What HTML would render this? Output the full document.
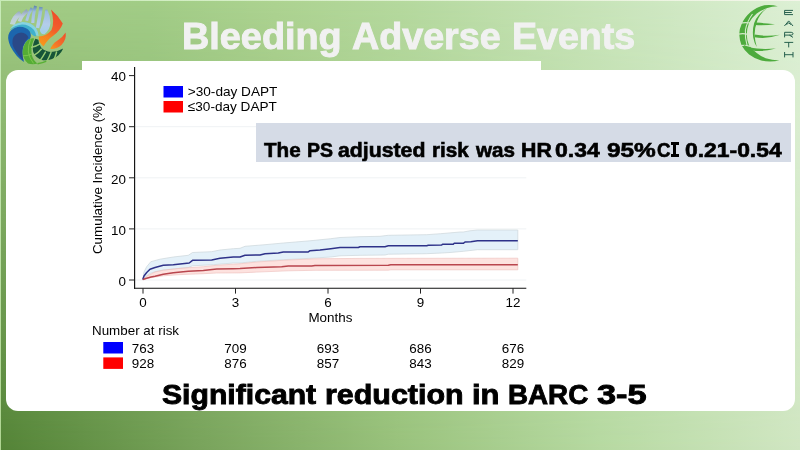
<!DOCTYPE html>
<html>
<head>
<meta charset="utf-8">
<title>Bleeding Adverse Events</title>
<style>
html,body{margin:0;padding:0;}
body{width:800px;height:450px;overflow:hidden;position:relative;font-family:"Liberation Sans",sans-serif;background:#a2ca84;}
#bgTop,#bgBot{position:absolute;left:0;top:0;width:800px;height:450px;}
#bgTop{background:linear-gradient(to right,rgb(162,203,133) 0px,rgb(162,205,135) 150px,rgb(173,211,145) 275px,rgb(181,217,158) 400px,rgb(205,231,192) 650px,rgb(221,240,213) 800px);}
#bgBot{background:linear-gradient(to right,rgb(83,131,54) 0px,rgb(120,163,91) 200px,rgb(153,194,124) 400px,rgb(182,217,161) 600px,rgb(208,230,194) 800px);
 -webkit-mask-image:linear-gradient(to bottom,rgba(0,0,0,0) 0px,rgba(0,0,0,1) 450px);mask-image:linear-gradient(to bottom,rgba(0,0,0,0) 0px,rgba(0,0,0,1) 450px);}
#edgeT{position:absolute;left:0;top:0;width:800px;height:1px;background:linear-gradient(to right,#c8ebb8,#f4f6ea);}
#edgeL{position:absolute;left:0;top:0;width:1px;height:450px;background:linear-gradient(to bottom,#c8ebb8,#afd592);}
#panel{position:absolute;left:6.3px;top:70px;width:788.8px;height:340.9px;background:#fff;border-radius:12px;}
#chartbg{position:absolute;left:81.8px;top:60.8px;width:459.3px;height:330px;background:#fff;}
#title span{-webkit-text-stroke:0.9px #f1f1f1;position:absolute;top:15.9px;font-weight:bold;font-size:36px;line-height:normal;color:#f1f1f1;white-space:nowrap;transform-origin:0 0;}
#hrbox{position:absolute;left:256px;top:123.2px;width:534.9px;height:38.5px;background:#d5dbe6;}
#hrtext span{-webkit-text-stroke:0.6px #000;position:absolute;top:138.8px;font-weight:bold;font-size:19.5px;line-height:normal;color:#000;white-space:nowrap;transform-origin:0 0;}
#foot span{-webkit-text-stroke:0.9px #000;position:absolute;top:378px;font-weight:bold;font-size:28.5px;line-height:normal;color:#000;white-space:nowrap;transform-origin:0 0;}
svg{position:absolute;left:0;top:0;}
#chart,#title,#hrtext,#foot{opacity:0.999;}
svg text{font-family:"Liberation Sans",sans-serif;fill:#000;}
</style>
</head>
<body>
<div id="bgTop"></div>
<div id="bgBot"></div>
<div id="edgeT"></div>
<div id="edgeL"></div>
<div id="panel"></div>
<div id="chartbg"></div>
<div id="title"><span style="left:181.9px;transform:scaleX(1.0507)">Bleeding</span><span style="left:352.4px;transform:scaleX(1.046)">Adverse</span><span style="left:511.9px;transform:scaleX(1.0435)">Events</span></div>

<svg id="chart" width="800" height="450" viewBox="0 0 800 450">
<!-- gridlines -->
<g stroke="#eff2f4" stroke-width="1">
<line x1="135" y1="228.9" x2="526.3" y2="228.9"/>
<line x1="135" y1="177.8" x2="526.3" y2="177.8"/>
<line x1="135" y1="126.7" x2="526.3" y2="126.7"/>
<line x1="135" y1="280" x2="526.3" y2="280"/>
</g>
<!-- CURVES-START -->
<path d="M142.8,279.5 L144.0,272.0 L146.7,266.7 L150.8,261.7 L160.0,259.2 L173.3,257.0 L188.3,255.3 L192.5,252.5 L211.7,251.7 L220.0,250.0 L233.3,248.7 L240.0,248.3 L245.0,246.3 L265.0,244.7 L283.3,243.0 L310.0,240.8 L330.8,238.7 L340.0,237.5 L360.0,236.7 L380.0,236.3 L388.3,235.3 L426.7,234.7 L440.8,233.7 L460.0,232.0 L463.3,232.0 L470.0,230.8 L477.5,230.0 L517.8,230.0 L517.8,249.7 L477.5,249.7 L463.3,251.3 L450.0,252.5 L441.7,253.0 L426.7,253.7 L388.3,254.2 L385.0,255.0 L360.0,255.3 L340.0,255.8 L330.8,257.0 L310.0,258.3 L283.3,259.7 L256.7,261.3 L240.0,263.0 L233.3,263.0 L213.3,264.7 L192.5,265.8 L188.3,267.5 L163.3,270.0 L155.0,271.7 L150.0,273.5 L146.7,276.0 L142.8,279.5 Z" fill="#d6e9f6" fill-opacity="0.65" stroke="#cdd7db" stroke-opacity="0.8" stroke-width="0.9"/>
<path d="M142.8,279.5 L146.7,276.3 L155.0,272.0 L163.3,270.2 L180.0,268.3 L203.3,266.7 L216.7,265.3 L233.3,264.2 L240.0,263.8 L256.7,262.0 L288.3,260.0 L315.0,258.8 L360.0,258.4 L517.8,258.2 L517.8,269.8 L390.8,269.8 L388.3,270.2 L315.0,270.3 L288.3,270.8 L256.7,272.1 L240.0,272.9 L216.7,273.0 L203.3,273.7 L180.0,274.6 L163.3,275.8 L155.0,277.0 L146.7,278.5 L142.8,279.5 Z" fill="#fbc5bf" fill-opacity="0.5" stroke="#eec0bc" stroke-opacity="0.7" stroke-width="0.9"/>
<path d="M142.8,279.5 L144.0,276.0 L146.7,272.5 L150.0,269.2 L155.0,267.5 L163.3,265.3 L173.3,264.7 L189.2,263.0 L192.5,260.3 L211.7,260.0 L220.0,258.3 L233.3,257.0 L240.0,257.0 L245.0,255.2 L260.0,255.0 L265.0,253.8 L278.3,253.0 L283.3,252.0 L308.3,251.9 L310.0,250.7 L320.0,250.0 L330.8,248.7 L340.0,247.5 L358.3,247.5 L360.0,246.7 L385.0,246.7 L388.3,245.8 L426.7,245.8 L428.3,245.2 L441.7,245.0 L442.5,244.2 L453.3,244.2 L454.2,243.3 L463.3,243.3 L465.0,242.0 L470.8,241.7 L477.5,240.8 L517.8,240.8" fill="none" stroke="#2e3289" stroke-width="1.5" stroke-linejoin="round"/>
<path d="M142.8,279.5 L146.7,278.2 L151.0,277.0 L155.0,276.2 L163.3,274.3 L173.3,272.7 L188.3,271.2 L203.3,270.4 L216.7,269.1 L233.3,268.7 L240.0,268.6 L256.7,267.5 L281.7,266.8 L288.3,265.9 L311.7,265.9 L315.0,265.4 L388.3,265.3 L390.8,264.8 L517.8,264.8" fill="none" stroke="#b9464e" stroke-width="1.5" stroke-linejoin="round"/>
<!-- CURVES-END -->
<!-- axes -->
<g stroke="#111" stroke-width="1.15" fill="none">
<line x1="134.6" y1="67.1" x2="134.6" y2="288.8"/>
<line x1="134" y1="288.25" x2="526.3" y2="288.25"/>
</g>
<g stroke="#222" stroke-width="1" fill="none">
<line x1="129" y1="75.6" x2="134.6" y2="75.6"/>
<line x1="129" y1="126.7" x2="134.6" y2="126.7"/>
<line x1="129" y1="177.8" x2="134.6" y2="177.8"/>
<line x1="129" y1="228.9" x2="134.6" y2="228.9"/>
<line x1="129" y1="280" x2="134.6" y2="280"/>
<line x1="143" y1="288.25" x2="143" y2="293.6"/>
<line x1="235.5" y1="288.25" x2="235.5" y2="293.6"/>
<line x1="328" y1="288.25" x2="328" y2="293.6"/>
<line x1="420.5" y1="288.25" x2="420.5" y2="293.6"/>
<line x1="513" y1="288.25" x2="513" y2="293.6"/>
</g>
<!-- y tick labels -->
<g font-size="13.4" text-anchor="end">
<text x="126" y="81.3">40</text>
<text x="126" y="132.4">30</text>
<text x="126" y="183.5">20</text>
<text x="126" y="234.6">10</text>
<text x="126" y="285.7">0</text>
</g>
<!-- x tick labels -->
<g font-size="13.4" text-anchor="middle">
<text x="143" y="307.3">0</text>
<text x="235.5" y="307.3">3</text>
<text x="328" y="307.3">6</text>
<text x="420.5" y="307.3">9</text>
<text x="513" y="307.3">12</text>
</g>
<text x="330.4" y="321.8" font-size="13.4" text-anchor="middle">Months</text>
<text transform="translate(101.5,177.8) rotate(-90)" font-size="13.4" text-anchor="middle">Cumulative Incidence (%)</text>
<!-- legend -->
<rect x="163.5" y="86" width="19.5" height="11.5" fill="#0000ff"/>
<rect x="163.5" y="101" width="19.5" height="11.5" fill="#ff0000"/>
<text x="187.8" y="96.3" font-size="13.6">&gt;30-day DAPT</text>
<text x="187.8" y="111" font-size="13.6">≤30-day DAPT</text>
<!-- risk table -->
<text x="92" y="334.5" font-size="13.4">Number at risk</text>
<rect x="103.3" y="342" width="19.7" height="11.5" fill="#0000ff"/>
<rect x="103.3" y="357.4" width="19.7" height="11.5" fill="#ff0000"/>
<g font-size="13.4" text-anchor="middle">
<text x="143" y="353">763</text>
<text x="235.5" y="353">709</text>
<text x="328" y="353">693</text>
<text x="420.5" y="353">686</text>
<text x="513" y="353">676</text>
<text x="143" y="368.3">928</text>
<text x="235.5" y="368.3">876</text>
<text x="328" y="368.3">857</text>
<text x="420.5" y="368.3">843</text>
<text x="513" y="368.3">829</text>
</g>
</svg>

<div id="hrbox"></div>
<div id="hrtext"><span style="left:264.0px;transform:scaleX(1.0588)">The</span><span style="left:307.0px;transform:scaleX(1.0)">PS</span><span style="left:337.91px;transform:scaleX(1.0897)">adjusted</span><span style="left:431.94px;transform:scaleX(1.0606)">risk</span><span style="left:475.6px;transform:scaleX(1.0556)">was</span><span style="left:520.51px;transform:scaleX(1.0923)">HR</span><span style="left:555.22px;transform:scaleX(1.1784)">0.34</span><span style="left:606.75px;transform:scaleX(1.25)">95%</span><span style="left:656.54px;transform:scaleX(0.9583)">C</span><span style="left:684.83px;transform:scaleX(1.1728)">0.21-0.54</span><i style="position:absolute;left:672.7px;top:142.4px;width:3.7px;height:14.2px;background:#000"></i><i style="position:absolute;left:670.5px;top:142.4px;width:8.1px;height:2.5px;background:#000"></i><i style="position:absolute;left:670.5px;top:154.1px;width:8.1px;height:2.5px;background:#000"></i></div>
<div id="foot"><span style="left:161.54px;transform:scaleX(1.0583)">Significant</span><span style="left:324.87px;transform:scaleX(1.0675)">reduction</span><span style="left:472.23px;transform:scaleX(1.0864)">in</span><span style="left:508.05px;transform:scaleX(0.9747)">BARC</span><span style="left:596.79px;transform:scaleX(1.2051)">3-5</span></div>

<!-- LL-START -->
<svg id="logoL" width="80" height="70" viewBox="0 0 80 70" style="position:absolute;left:0;top:0">
<defs>
<linearGradient id="ray" gradientUnits="userSpaceOnUse" x1="0" y1="6" x2="0" y2="32"><stop offset="0" stop-color="#5f86ad"/><stop offset="0.22" stop-color="#9dbde0"/><stop offset="0.7" stop-color="#b4cdea"/><stop offset="1" stop-color="#a4cfe8"/></linearGradient>
<linearGradient id="ray2" gradientUnits="userSpaceOnUse" x1="0" y1="10" x2="0" y2="26"><stop offset="0" stop-color="#8fa3b8"/><stop offset="0.4" stop-color="#bccbdd"/><stop offset="1" stop-color="#cbdbe4" stop-opacity="0.8"/></linearGradient>
<linearGradient id="flm" gradientUnits="userSpaceOnUse" x1="58" y1="12" x2="42" y2="46"><stop offset="0" stop-color="#ee4b2b"/><stop offset="0.5" stop-color="#f2602a"/><stop offset="0.72" stop-color="#f58220"/><stop offset="1" stop-color="#f7981d"/></linearGradient>
<linearGradient id="flm2" gradientUnits="userSpaceOnUse" x1="66" y1="33" x2="51" y2="49"><stop offset="0" stop-color="#ee4f2b"/><stop offset="0.6" stop-color="#f3702a"/><stop offset="1" stop-color="#f7941d"/></linearGradient>
<filter id="lb" x="-5%" y="-5%" width="110%" height="110%"><feGaussianBlur stdDeviation="0.5"/></filter>
</defs>
<g filter="url(#lb)">
<!-- rays -->
<g fill="none" stroke-linecap="butt">
<path d="M12.3,24.5 Q14,17.5 20.5,13" stroke="url(#ray2)" stroke-width="5"/>
<path d="M19.5,21.5 Q21.5,15 27.5,10.5" stroke="url(#ray2)" stroke-width="3.6"/>
<path d="M26.7,20.8 Q28.2,13.5 32,8.2" stroke="url(#ray)" stroke-width="2.9"/>
<path d="M32.8,23 Q33.2,13 35.6,6" stroke="url(#ray)" stroke-width="3.1"/>
<path d="M37.5,28 Q40,16 41,7" stroke="url(#ray)" stroke-width="3.5"/>
</g>
<path d="M47.2,9.6 Q50.5,16 50.4,23 Q50,30 44.5,34.2 Q40.5,34.5 39.8,30 Q43,24 44.3,17 Q45,12 45.2,9.8 Z" fill="url(#ray)"/>
<!-- cyan waves -->
<path d="M10,29 Q13.5,23.2 22.5,22 Q31,21.8 36,28 Q38.5,32 38.6,36 Q35,35.5 32.5,31.5 Q27,25.5 18,26.3 Q13,27 10,29 Z" fill="#86d3e1"/>
<path d="M9.6,30.5 Q13.5,25.4 22,24.4 Q29.5,24.4 34,30 Q36,33 36.2,36.6 Q32.5,36 30,32 Q25.5,27 18,27.4 Q13,28 9.6,30.5 Z" fill="#3fb0cd"/>
<!-- blue wave -->
<path d="M8.4,35 Q10,28.8 17.5,27 Q25.5,26 29.8,31.5 Q31.8,35.2 30,38.8 Q25.5,41 23.5,46 Q21.5,53 24,62 Q16,57 10.5,46.5 Q7.5,40 8.4,35 Z" fill="#1b66ae"/>
<path d="M12.6,39.5 Q14.2,33.6 21,32.6 Q26.8,33 28.4,37.6 Q24.8,41.5 22.9,46.5 Q21.3,53 23.4,60.5 Q17.5,55 13.6,47.5 Q11.8,43.5 12.6,39.5 Z" fill="#2b4a88"/>
<!-- flames -->
<path d="M51,9.6 Q58,15.5 62.8,23.4 Q60.5,30 53.5,35.5 Q47.5,39.5 43.6,46.4 Q38.2,42.5 38.8,36.4 Q46.5,36.2 51.5,30 Q55,22 51,9.6 Z" fill="url(#flm)"/>
<path d="M65.6,32.6 Q66.8,39.5 61.5,45 Q56.5,49.5 50.4,49 Q52,44 57.5,40.5 Q63,37 65.6,32.6 Z" fill="url(#flm2)"/>
<!-- light green crescent -->
<path d="M34.2,38.4 Q30,37.6 26.5,41.2 Q22.5,46.5 22.6,53 Q23.4,59.5 28,63.6 Q33,65 37.5,63.6 Q33,60 31.8,55 Q30.4,47 34.2,38.4 Z" fill="#55ad34"/>
<path d="M30.6,39.4 Q28,45 28.3,52 Q29.5,58.5 33.5,63.4" fill="none" stroke="#80c850" stroke-width="0.9"/>
<path d="M22.8,55.8 Q27,56.2 31.8,54" fill="none" stroke="#80c850" stroke-width="0.9"/>
<path d="M37.5,63.8 Q43,63 46.5,61.2" fill="none" stroke="#58b035" stroke-width="1.5"/>
<!-- dark green leaf -->
<path d="M35.4,38.8 Q31.8,45 33.2,52 Q35.5,58.2 43,60.2 Q52,60.8 58.5,55.3 Q61.5,52.3 63.2,48.4 Q58,51.6 51,52 Q44.5,51.6 41,47.3 Q38.4,43.5 38.4,39.8 Z" fill="#165539"/>
<g fill="none" stroke="#98cc74" stroke-width="1.4">
<path d="M31,47.4 Q36,46.7 40.5,43.7"/>
<path d="M33.5,55.7 Q38,53.2 41.7,48.7"/>
<path d="M39.7,61.2 Q42.7,57.2 45.7,51.7"/>
<path d="M46.7,61.7 Q49.2,57.2 51.2,52"/>
<path d="M53.7,60 Q55.7,56 56.7,51.5"/>
</g>
</g>
</svg>
<!-- LL-END -->
<!-- LR-START -->
<svg id="logoR" width="70" height="70" viewBox="730 0 70 70" style="position:absolute;left:730px;top:0">
<defs><filter id="rb" x="-5%" y="-5%" width="110%" height="110%"><feGaussianBlur stdDeviation="0.35"/></filter></defs>
<g filter="url(#rb)">
<!-- C crescent -->
<path d="M777.8,6.3 Q771,4.2 764.2,5.3 Q756,7.5 750.6,12.1 Q744.5,17.5 741.6,24.2 Q739,29.5 739.3,34.8 Q739.5,40.5 741.6,45.4 Q744.5,50.5 749.1,54.4 Q754.5,58.5 761.2,60.5 Q770,62.5 779.4,60.5 Q772,60.3 765.7,58.2 Q760.5,56 756.7,52.9 Q752,49.5 749.1,45.4 Q746.8,40.5 746.8,34.8 Q746.8,28.5 749.1,22.7 Q752,17.5 756.7,13.6 Q761,10.3 766.5,8.3 Q772,6.5 777.8,6.3 Z" fill="#4dab3c"/>
<!-- cuts across C -->
<g fill="none" stroke="#d3eaca" stroke-width="1.25">
<path d="M740,23.2 Q745,22 750.5,23"/>
<path d="M738.5,34.2 Q743,33.2 748,34.4"/>
<path d="M740.5,45.6 Q745,44.6 750.5,46.5"/>
<path d="M752.5,14 Q747.2,21 745.4,30 Q744.8,38 747.3,46.5" stroke-width="1.1"/>
</g>
<!-- meridian -->
<path d="M767.2,8 Q760,13.5 757.2,21 Q754.5,28.5 754.6,35 Q755,41.5 756.8,47 Q754.2,43 753.2,37.5 Q752.2,30 754.2,23 Q757,14.5 767.2,8 Z" fill="#4dab3c"/>
<!-- latitudes -->
<path d="M755.5,22.6 Q765,23.2 775,24.3 Q765,25.6 755.2,25 Z" fill="#4dab3c"/>
<path d="M754.5,34.6 Q767,37 780,34.8 Q767,39.4 754.6,37.2 Z" fill="#4dab3c"/>
<path d="M743,44.6 Q749,48 757,48.6 Q766,49.3 776,48.5 Q765,51.6 755.5,51 Q747.5,50 743,44.6 Z" fill="#4dab3c"/>
<path d="M741,23.5 Q746,22.2 751,23.5 Q746,24 741,24.6 Z" fill="#4dab3c" opacity="0"/>
</g>
<!-- EARTH -->
<g fill="none" stroke="#1f5a48" stroke-width="0.95" stroke-linecap="butt" stroke-linejoin="miter">
<path d="M793,10.4 H784.6 V14.6 H793 M784.6,12.5 H791.8"/>
<path d="M784.4,26 L788.7,20.9 L793,26 M786.4,24.6 L788.7,22.9 L791,24.6"/>
<path d="M784.6,37.4 V32.3 H791.2 Q793,32.4 793,33.7 Q793,35 791.2,35.1 H784.6 M789.4,35.1 L793,37.4"/>
<path d="M784.3,42.4 H793.2 M788.7,42.4 V47.4"/>
<path d="M784.6,52 V57.4 M793,52 V57.4 M784.6,54.7 H793"/>
</g>
</svg>
<!-- LR-END -->
</body>
</html>
